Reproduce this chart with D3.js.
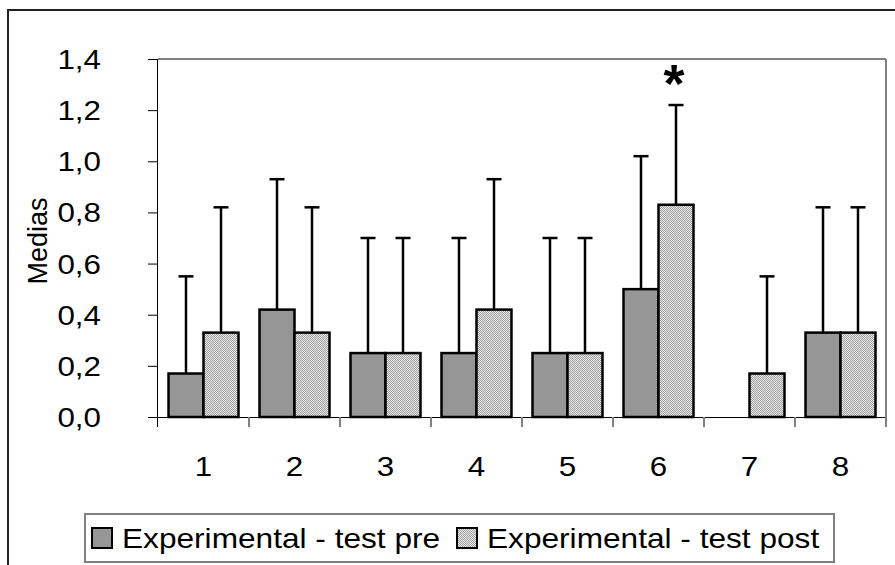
<!DOCTYPE html>
<html><head><meta charset="utf-8">
<script src="https://cdn.jsdelivr.net/npm/d3@7"></script>
<style>body{margin:0;background:#fff}svg{display:block}text{font-family:"Liberation Sans",Arial,sans-serif;fill:#000}</style>
</head><body><svg id="c" width="895" height="565"></svg>
<script>
const categories = ["1","2","3","4","5","6","7","8"];
const seriesNames = ["Experimental - test pre","Experimental - test post"];
const preMeans  = [0.17,0.42,0.25,0.25,0.25,0.50,0.00,0.33];
const preTops   = [0.55,0.93,0.70,0.70,0.70,1.02,null,0.82];
const postMeans = [0.33,0.33,0.25,0.42,0.25,0.83,0.17,0.33];
const postTops  = [0.82,0.82,0.70,0.93,0.70,1.22,0.55,0.82];
const yTicks = [0,0.2,0.4,0.6,0.8,1.0,1.2,1.4];
const yLabel = "Medias";
const markCategory = "6";

const svg = d3.select("#c");
const L=158,R=886,T=59,B=417;
const defs = svg.append("defs");
const pat = defs.append("pattern").attr("id","dots").attr("patternUnits","userSpaceOnUse").attr("width",2).attr("height",2);
pat.append("rect").attr("width",2).attr("height",2).attr("fill","#e8e8e8");
pat.append("rect").attr("x",0).attr("y",0).attr("width",1).attr("height",1).attr("fill","#a0a0a0");
pat.append("rect").attr("x",1).attr("y",1).attr("width",1).attr("height",1).attr("fill","#a0a0a0");
const fills = ["#969696","url(#dots)"];

// outer frame
svg.append("rect").attr("x",8).attr("y",10).attr("width",920).attr("height",600).attr("fill","none").attr("stroke","#222").attr("stroke-width",2);

const x = d3.scaleBand().domain(categories).range([L,R]).paddingInner(0).paddingOuter(0);
const xi = d3.scaleBand().domain([0,1]).range([0,x.bandwidth()]).paddingInner(0).paddingOuter(0.3);
const y = d3.scaleLinear().domain([0,1.4]).range([B,T]);

function stext(g,xp,yp,str,size,anchor,weight,sx){
  return g.append("text").attr("transform",`translate(${xp},${yp}) scale(${sx||1.12},1)`).attr("text-anchor",anchor||"middle").attr("font-size",size).attr("font-weight",weight||"normal").text(str);
}

// plot border top/right
svg.append("line").attr("x1",L).attr("x2",R).attr("y1",T).attr("y2",T).attr("stroke","#808080").attr("stroke-width",2);
svg.append("line").attr("x1",R).attr("x2",R).attr("y1",T).attr("y2",B).attr("stroke","#808080").attr("stroke-width",2);

// y axis
const ya = svg.append("g").attr("transform",`translate(${L},0)`).call(d3.axisLeft(y).tickValues(yTicks).tickSize(10).tickFormat(""));
ya.select(".domain").attr("stroke","#000").attr("stroke-width",1).attr("d",`M-0.5,${T}V${B+10}`);
ya.selectAll(".tick line").attr("stroke","#000");
yTicks.forEach(v=>stext(svg,101,y(v)+10,d3.format(".1f")(v).replace(".",","),28,"end"));

// x axis
const xa = svg.append("g").attr("transform",`translate(0,${B})`).call(d3.axisBottom(x).tickSize(0).tickFormat(""));
xa.select(".domain").attr("stroke","#000").attr("stroke-width",1).attr("d",`M${L-10},0.5H${R}`);
const bounds = categories.map(c=>x(c)).concat([R]).slice(1);
svg.append("g").selectAll("line").data(bounds).join("line")
  .attr("x1",d=>d).attr("x2",d=>d).attr("y1",B).attr("y2",B+10).attr("stroke","#808080").attr("stroke-width",2);
categories.forEach(c=>stext(svg,x(c)+x.bandwidth()/2,476,c,28,"middle"));

// y label
svg.append("text").attr("transform","translate(47,241) rotate(-90)").attr("text-anchor","middle").attr("font-size",27).text(yLabel);

// bars
const series = [{m:preMeans,t:preTops},{m:postMeans,t:postTops}];
series.forEach((s,si)=>{
  const g = svg.append("g");
  const data = categories.map((c,i)=>({c,m:s.m[i],t:s.t[i]}));
  g.selectAll("rect").data(data).join("rect")
    .attr("x",d=>x(d.c)+xi(si)).attr("width",xi.bandwidth())
    .attr("y",d=>y(d.m)).attr("height",d=>y(0)-y(d.m))
    .attr("fill",fills[si]).attr("stroke","#000").attr("stroke-width",2.5);
  const eb = data.filter(d=>d.t!=null);
  g.selectAll("line.v").data(eb).join("line").attr("class","v")
    .attr("x1",d=>x(d.c)+xi(si)+xi.bandwidth()/2).attr("x2",d=>x(d.c)+xi(si)+xi.bandwidth()/2)
    .attr("y1",d=>y(d.m)).attr("y2",d=>y(d.t)).attr("stroke","#000").attr("stroke-width",2.5);
  g.selectAll("line.h").data(eb).join("line").attr("class","h")
    .attr("x1",d=>x(d.c)+xi(si)+xi.bandwidth()/2-7.5).attr("x2",d=>x(d.c)+xi(si)+xi.bandwidth()/2+7.5)
    .attr("y1",d=>y(d.t)).attr("y2",d=>y(d.t)).attr("stroke","#000").attr("stroke-width",2.5);
});

// significance mark
stext(svg,x(markCategory)+xi(1)+xi.bandwidth()/2-2,102,"*",54,"middle","bold",1);

// legend
const lg = svg.append("g");
lg.append("rect").attr("x",85).attr("y",514).attr("width",749).attr("height",48).attr("fill","#fff").attr("stroke","#808080").attr("stroke-width",2);
const lx = [92,457];
seriesNames.forEach((n,i)=>{
  lg.append("rect").attr("x",lx[i]).attr("y",528).attr("width",20).attr("height",20).attr("fill",fills[i]).attr("stroke","#000").attr("stroke-width",2);
  stext(lg,lx[i]+30,548,n,28,"start","normal",1.13);
});
</script></body></html>
